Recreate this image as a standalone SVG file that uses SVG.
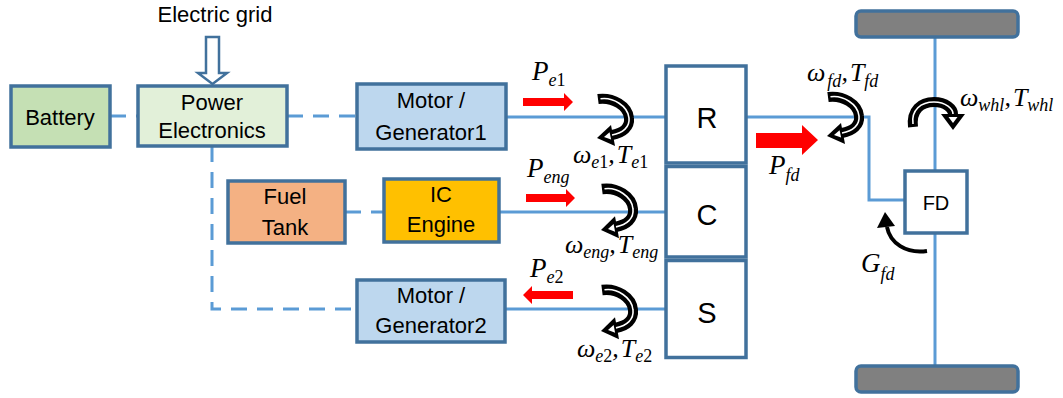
<svg xmlns="http://www.w3.org/2000/svg" width="1063" height="398" viewBox="0 0 1063 398">
<style>
.box{stroke:#41719c;stroke-width:3.5}
.t{font-family:"Liberation Sans",Arial,sans-serif;font-size:22px;fill:#000;text-anchor:middle}
.c{stroke:#5b9bd5;stroke-width:3;fill:none}
.d{stroke-dasharray:16 10}
.m{font-family:"Liberation Serif","Times New Roman",serif;font-style:italic;font-size:26px;fill:#000}
.p{font-size:27px}
.s{font-size:18px}
.n{font-style:normal}
.red{fill:#ff0000}
.ro{stroke:#000;stroke-width:10;fill:none}
.ri{stroke:#fff;stroke-width:1.6;fill:none}
</style>
<defs>
<g id="rot">
<path class="ro" d="M0,0 C15,-2 30,7 31,19 C32,28 25,34 14,36"/>
<polygon points="-1,39 13,26 17,47" fill="#000"/>
<path class="ri" d="M2.5,-0.2 C15,-2 30,7 31,19 C32,28 25,34 14,36"/>
<polygon points="6,38.1 11.6,33.3 13.1,40.6" fill="#fff"/>
</g>
</defs>

<g id="connectors">
<line class="c d" x1="110" y1="116" x2="137" y2="116"/>
<line class="c d" x1="287" y1="116" x2="357" y2="116"/>
<polyline class="c d" points="212,146 212,309 357,309"/>
<line class="c d" x1="345" y1="212" x2="383" y2="212"/>
<line class="c" x1="506" y1="117" x2="666" y2="117"/>
<line class="c" x1="499" y1="212" x2="666" y2="212"/>
<line class="c" x1="505" y1="309" x2="666" y2="309"/>
<polyline class="c" points="746,117 869,117 869,200 905,200"/>
<line class="c" x1="935" y1="37" x2="935" y2="170"/>
<line class="c" x1="935" y1="233" x2="935" y2="365"/>
<polygon points="206,37 219,37 219,73 227,73 212.5,84 198,73 206,73" fill="#fff" stroke="#41719c" stroke-width="2.5"/>
</g>

<g id="electric-grid">
<text class="t" x="215" y="22">Electric grid</text>
</g>

<g id="battery">
<rect class="box" x="11" y="86" width="99" height="61" fill="#c5e0b4"/>
<text class="t" x="60" y="125">Battery</text>
</g>

<g id="power-electronics">
<rect class="box" x="138" y="86" width="149" height="60" fill="#e2f0d9"/>
<text class="t" x="212" y="110">Power</text>
<text class="t" x="212" y="138">Electronics</text>
</g>

<g id="motor-generator1">
<rect class="box" x="357" y="84" width="149" height="65" fill="#bdd7ee"/>
<text class="t" x="431" y="108">Motor /</text>
<text class="t" x="431" y="140">Generator1</text>
</g>

<g id="fuel-tank">
<rect class="box" x="228" y="181" width="117" height="62" fill="#f4b183"/>
<text class="t" x="285" y="204">Fuel</text>
<text class="t" x="285" y="235">Tank</text>
</g>

<g id="ic-engine">
<rect class="box" x="384" y="179" width="115" height="63" fill="#ffc000"/>
<text class="t" x="441" y="202">IC</text>
<text class="t" x="441" y="232">Engine</text>
</g>

<g id="motor-generator2">
<rect class="box" x="357" y="280" width="148" height="62" fill="#bdd7ee"/>
<text class="t" x="431" y="303">Motor /</text>
<text class="t" x="431" y="333">Generator2</text>
</g>

<g id="ring">
<rect class="box" x="666" y="66" width="80" height="97" fill="#fff"/>
<text class="t" x="707" y="128" style="font-size:29px">R</text>
</g>
<g id="carrier">
<rect class="box" x="666" y="166.5" width="80" height="90.5" fill="#fff"/>
<text class="t" x="707" y="225" style="font-size:29px">C</text>
</g>
<g id="sun">
<rect class="box" x="666" y="260.5" width="80" height="97" fill="#fff"/>
<text class="t" x="707" y="323" style="font-size:29px">S</text>
</g>

<g id="final-drive">
<rect class="box" x="905" y="171" width="62" height="62" fill="#fff"/>
<text class="t" x="936" y="210" style="font-size:20px">FD</text>
</g>

<g id="wheel-top">
<rect class="box" x="856" y="11" width="162" height="26" rx="5" fill="#808080"/>
</g>
<g id="wheel-bottom">
<rect class="box" x="856" y="366" width="162" height="26" rx="5" fill="#808080"/>
</g>

<g id="power-arrows">
<polygon class="red" points="523,98 564,98 564,93 573,102 564,111 564,106 523,106"/>
<polygon class="red" points="526,194 566,194 566,189 575,198 566,207 566,202 526,202"/>
<polygon class="red" points="573,291 532,291 532,286 523,295 532,304 532,299 573,299"/>
<polygon class="red" points="756,133 802,133 802,125 818,140 802,155 802,148 756,148"/>
</g>

<g id="rotation-arrows">
<use href="#rot" x="598" y="99"/>
<use href="#rot" transform="translate(602,189) scale(1,1.05)"/>
<use href="#rot" transform="translate(602,290) scale(1,1.05)"/>
<use href="#rot" x="828" y="97"/>
<path class="ro" d="M913,127 C911,110 921,102 934,102 C946,102 953,109 953,114"/>
<polygon points="953,130 941,114 965,114" fill="#000"/>
<path class="ri" d="M913,124 C911,110 921,102 934,102 C946,102 953,109 953,114"/>
<polygon points="953,123 948.5,117 957.5,117" fill="#fff"/>
<path d="M927,251 C906,254 890,243 887,227" stroke="#000" stroke-width="4" fill="none"/>
<polygon points="885,212 877,228 895,226" fill="#000"/>
</g>

<g id="labels">
<text class="m p" x="532" y="80">P<tspan class="s" dy="6">e</tspan><tspan class="s n">1</tspan></text>
<text class="m" x="573" y="163">ω<tspan class="s" dy="5">e</tspan><tspan class="s n">1</tspan><tspan dy="-5">,</tspan><tspan dx="2">T</tspan><tspan class="s" dy="5">e</tspan><tspan class="s n">1</tspan></text>
<text class="m p" x="527" y="177">P<tspan class="s" dy="6">eng</tspan></text>
<text class="m" x="565" y="253">ω<tspan class="s" dy="5">eng</tspan><tspan dy="-5">,</tspan><tspan dx="2">T</tspan><tspan class="s" dy="5">eng</tspan></text>
<text class="m p" x="530" y="277">P<tspan class="s" dy="6">e</tspan><tspan class="s n">2</tspan></text>
<text class="m" x="577" y="357">ω<tspan class="s" dy="5">e</tspan><tspan class="s n">2</tspan><tspan dy="-5">,</tspan><tspan dx="2">T</tspan><tspan class="s" dy="5">e</tspan><tspan class="s n">2</tspan></text>
<text class="m" x="807" y="81">ω<tspan class="s" dy="6" dx="2">fd</tspan><tspan dy="-6">,</tspan><tspan dx="2">T</tspan><tspan class="s" dy="6">fd</tspan></text>
<text class="m p" x="769" y="174">P<tspan class="s" dy="7">fd</tspan></text>
<text class="m" x="960" y="106">ω<tspan class="s" dy="5">whl</tspan><tspan dy="-5">,</tspan><tspan dx="2">T</tspan><tspan class="s" dy="5">whl</tspan></text>
<text class="m p" x="861" y="272">G<tspan class="s" dy="8">fd</tspan></text>
</g>
</svg>
